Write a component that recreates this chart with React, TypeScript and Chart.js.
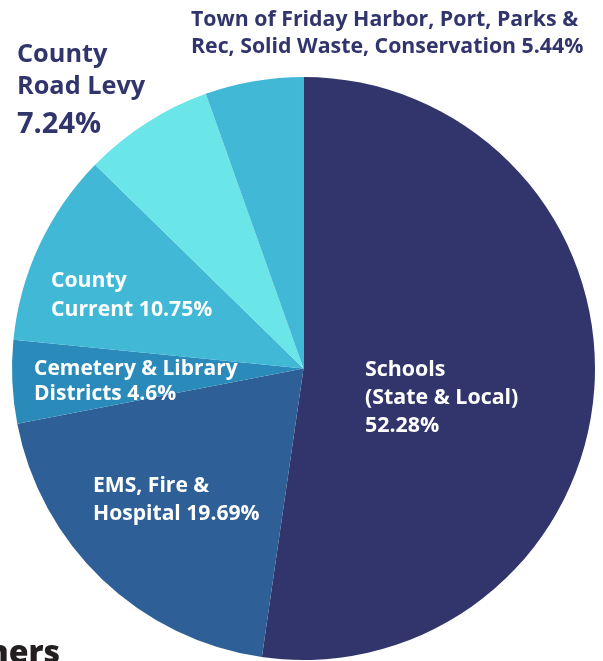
import React, { useEffect, useRef } from "react";
import { Chart, registerables } from "chart.js";

Chart.register(...registerables);

const categories = [
  "Schools (State & Local)",
  "EMS, Fire & Hospital",
  "Cemetery & Library Districts",
  "County Current",
  "County Road Levy",
  "Town of Friday Harbor, Port, Parks & Rec, Solid Waste, Conservation",
];
const shares = [52.28, 19.69, 4.6, 10.75, 7.24, 5.44];
const sliceColors = ["#31356b", "#2e5f97", "#2a8bbb", "#41b8d6", "#6ae5e8", "#41b8d6"];

const navy = "#31356b";
const font = "'Open Sans', 'DejaVu Sans', sans-serif";

type Lbl = { lines: string[]; left: number; top: number; size: number; lh: number; color: string; weight?: number };

const labels: Lbl[] = [
  { lines: ["Town of Friday Harbor, Port, Parks &", "Rec, Solid Waste, Conservation 5.44%"], left: 191, top: 4.2, size: 21.3, lh: 27, color: navy },
  { lines: ["County", "Road Levy"], left: 17, top: 36.2, size: 25.3, lh: 32, color: navy },
  { lines: ["7.24%"], left: 17, top: 104.8, size: 29, lh: 34, color: navy },
  { lines: ["County", "Current 10.75%"], left: 51, top: 264.3, size: 21.2, lh: 29, color: "#ffffff" },
  { lines: ["Cemetery & Library", "Districts 4.6%"], left: 34, top: 355.3, size: 21, lh: 25, color: "#ffffff" },
  { lines: ["EMS, Fire &", "Hospital 19.69%"], left: 93, top: 469.8, size: 21.1, lh: 28, color: "#ffffff" },
  { lines: ["Schools", "(State & Local)", "52.28%"], left: 365, top: 353.7, size: 21.4, lh: 28, color: "#ffffff" },
];

export default function App() {
  const ref = useRef<HTMLCanvasElement | null>(null);

  useEffect(() => {
    if (!ref.current) return;
    const chart = new Chart(ref.current, {
      type: "pie",
      data: {
        labels: categories,
        datasets: [
          {
            data: shares,
            backgroundColor: sliceColors,
            borderWidth: 0,
          },
        ],
      },
      options: {
        animation: false,
        responsive: false,
        maintainAspectRatio: false,
        events: [],
        layout: { padding: { left: 12, top: 77, right: 8, bottom: 1 } },
        plugins: {
          legend: { display: false },
          tooltip: { enabled: false },
        },
      },
    });
    return () => chart.destroy();
  }, []);

  return (
    <div
      style={{
        position: "absolute",
        left: 0,
        top: 0,
        width: 603,
        height: 661,
        overflow: "hidden",
        background: "#ffffff",
        fontFamily: font,
      }}
    >
      <canvas
        ref={ref}
        width={603}
        height={661}
        style={{ position: "absolute", left: 0, top: 0, width: 603, height: 661, display: "block" }}
      />
      {labels.map((l, i) => (
        <div
          key={i}
          style={{
            position: "absolute",
            left: l.left,
            top: l.top,
            fontSize: l.size,
            lineHeight: `${l.lh}px`,
            fontWeight: l.weight ?? 700,
            color: l.color,
            whiteSpace: "nowrap",
          }}
        >
          {l.lines.map((t, j) => (
            <div key={j}>{t}</div>
          ))}
        </div>
      ))}
      <div
        style={{
          position: "absolute",
          right: 543,
          top: 634.6,
          fontSize: 32,
          lineHeight: "32px",
          fontWeight: 800,
          color: "#231f20",
          whiteSpace: "nowrap",
        }}
      >
        ners
      </div>
    </div>
  );
}
